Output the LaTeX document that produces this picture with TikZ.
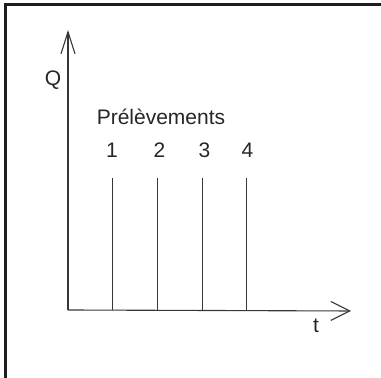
\documentclass[tikz,border=0pt]{standalone}
\usepackage{fontspec}
\setmainfont{Liberation Sans}
\usepackage{tikz}
\usetikzlibrary{arrows.meta,positioning}
\definecolor{inkgray}{RGB}{55,55,55}
\definecolor{framegray}{RGB}{30,30,30}
\tikzset{
  frame/.style={line width=1.5pt, framegray},
  axis/.style={line width=0.55pt, inkgray},
  yaxis/.style={axis, -{Straight Barb[length=11pt,width=7pt,line width=0.55pt]}},
  xaxis/.style={axis, -{Straight Barb[length=9.5pt,width=9.5pt,line width=0.55pt]}},
  sample/.style={line width=0.5pt, inkgray},
  lbl/.style={inner sep=0pt, font=\fontsize{10.5}{12}\selectfont, text=black!85}
}

\begin{document}
\begin{tikzpicture}[x=0.5pt,y=-0.5pt]
  \useasboundingbox (0,0) rectangle (381,378);
  % Frame
  \coordinate (fr) at (381,5);
  \coordinate (fc) at (5.5,5);
  \coordinate (fb) at (5.5,378);
  \draw[frame] (fr) -- (fc) -- (fb);

  % Axes
  \coordinate (O) at (68,310);
  \coordinate (ytip) at (68,30);
  \coordinate (xtip) at (351,311);
  \draw[yaxis] (O) -- (ytip);
  \draw[xaxis] (O) -- (xtip);
  \node[lbl] (Q) at (53,80) {Q};
  \node[lbl] (t) at (316,326) {t};

  % Samples
  \node[lbl] (title) at (161,117) {Prélèvements};
  \foreach \i/\x/\lx in {1/112/112,2/157/159.5,3/202/204.5,4/246/247.5}{
    \node[lbl] (n\i) at (\lx,150) {\i};
    \coordinate (s\i) at (\x,178);
    \coordinate (b\i) at (\x,310);
    \draw[sample] (s\i) -- (b\i);
  }
\end{tikzpicture}
\end{document}
